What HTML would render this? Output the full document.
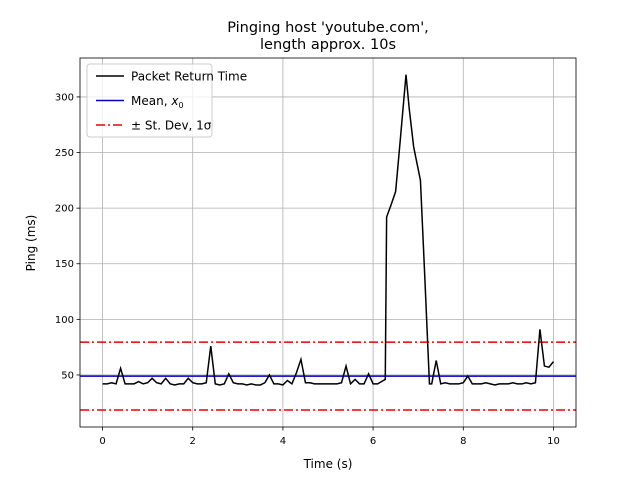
<!DOCTYPE html>
<html><head><meta charset="utf-8"><style>body{margin:0;background:#fff}svg{display:block;font-family:"DejaVu Sans","Liberation Sans",sans-serif}</style></head>
<body>
<svg id="c" width="640" height="480"></svg>
<script>
const times=[0,0.1,0.2,0.3,0.4,0.5,0.6,0.7,0.8,0.9,1,1.1,1.2,1.3,1.4,1.5,1.6,1.7,1.8,1.9,2,2.1,2.2,2.3,2.4,2.5,2.6,2.7,2.8,2.9,3,3.1,3.2,3.3,3.4,3.5,3.6,3.7,3.8,3.9,4,4.1,4.2,4.3,4.4,4.5,4.6,4.7,4.8,4.9,5,5.1,5.2,5.3,5.4,5.5,5.6,5.7,5.8,5.9,6,6.1,6.27,6.3,6.4,6.5,6.6,6.73,6.8,6.9,7.05,7.15,7.25,7.3,7.4,7.5,7.6,7.7,7.8,7.9,8,8.1,8.2,8.3,8.4,8.5,8.6,8.7,8.8,8.9,9,9.1,9.2,9.3,9.4,9.5,9.6,9.7,9.8,9.9,10];
const pings=[42,42,43,42,56,42,42,42,44,42,43,47,43,42,47,42,41,42,42,47,43,42,42,43,76,42,41,42,51,43,42,42,41,42,41,41,43,50,42,42,41,45,42,52,64,43,43,42,42,42,42,42,42,43,58,42,46,42,42,51,42,42,46,192,203,215,260,320,290,255,225,135,42,42,63,42,43,42,42,42,43,49,42,42,42,43,42,41,42,42,42,43,42,42,43,42,43,91,58,57,62];
const meanVal=[49];
const sdVal=[30.5];
const xTicks=[0,2,4,6,8,10];
const yTicks=[50,100,150,200,250,300];
const L=80,R=576,T=58,B=427,x0=-0.5,x1=10.5,y0=3.2,y1=335;
const X=v=>L+(v-x0)/(x1-x0)*(R-L), Y=v=>B-(v-y0)/(y1-y0)*(B-T);
const svg=document.getElementById('c'),NS='http://www.w3.org/2000/svg';
function mk(t,a,txt){const e=document.createElementNS(NS,t);for(const k in a)e.setAttribute(k,a[k]);if(txt!=null)e.textContent=txt;svg.appendChild(e);return e;}
let e;
xTicks.forEach(v=>{e=mk('line',{x1:X(v),x2:X(v),y1:T,y2:B,stroke:'#b0b0b0','stroke-width':0.8});


mk('line',{x1:X(v),x2:X(v),y1:B,y2:B+3.5,stroke:'#000','stroke-width':0.8});
e=mk('text',{x:X(v),y:B+17,'font-size':10,'text-anchor':'middle'},v);

});
yTicks.forEach(v=>{e=mk('line',{x1:L,x2:R,y1:Y(v),y2:Y(v),stroke:'#b0b0b0','stroke-width':0.8});


mk('line',{x1:L-3.5,x2:L,y1:Y(v),y2:Y(v),stroke:'#000','stroke-width':0.8});
e=mk('text',{x:L-6,y:Y(v)+3.5,'font-size':10,'text-anchor':'end'},v);

});
const m=meanVal[0],s=sdVal[0];
[m+s,m-s].forEach(v=>{e=mk('line',{x1:L,x2:R,y1:Y(v),y2:Y(v),stroke:'#e00','stroke-width':1.5,'stroke-dasharray':'9,3,2,3'});

});
e=mk('line',{x1:L,x2:R,y1:Y(m),y2:Y(m),stroke:'#00c','stroke-width':1.5});


e=mk('polyline',{points:times.map((t,i)=>X(t)+','+Y(pings[i])).join(' '),fill:'none',stroke:'#000','stroke-width':1.5});


e=mk('rect',{x:L,y:T,width:R-L,height:B-T,fill:'none',stroke:'#000','stroke-width':0.8});


e=mk('text',{x:328,y:32,'font-size':14.5,'text-anchor':'middle'},"Pinging host 'youtube.com',");


e=mk('text',{x:328,y:49,'font-size':14.5,'text-anchor':'middle'},"length approx. 10s");


e=mk('text',{x:328,y:468,'font-size':12,'text-anchor':'middle'},"Time (s)");


e=mk('text',{x:35,y:243,'font-size':12,'text-anchor':'middle',transform:'rotate(-90 35 243)'},"Ping (ms)");


e=mk('rect',{x:87,y:64,width:125,height:73,rx:3,fill:'#fff','fill-opacity':0.8,stroke:'#ccc'});


const leg=[["Packet Return Time",'#000',null],["Mean, ",'#00c',null],["± St. Dev, 1σ",'#e00','9,3,2,3']];
leg.forEach((l,i)=>{const y=76+i*24.5;
mk('line',{x1:96,x2:124,y1:y,y2:y,stroke:l[1],'stroke-width':1.5,'stroke-dasharray':l[2]||'none'});
e=mk('text',{x:131,y:y+4.5,'font-size':12},l[0]);
if(i==1){const ts=document.createElementNS(NS,'tspan');ts.setAttribute('font-style','italic');ts.textContent='x';e.appendChild(ts);const sb=document.createElementNS(NS,'tspan');sb.setAttribute('font-size',8);sb.setAttribute('dy',3);sb.textContent='0';e.appendChild(sb);}

});
</script>
</body></html>
